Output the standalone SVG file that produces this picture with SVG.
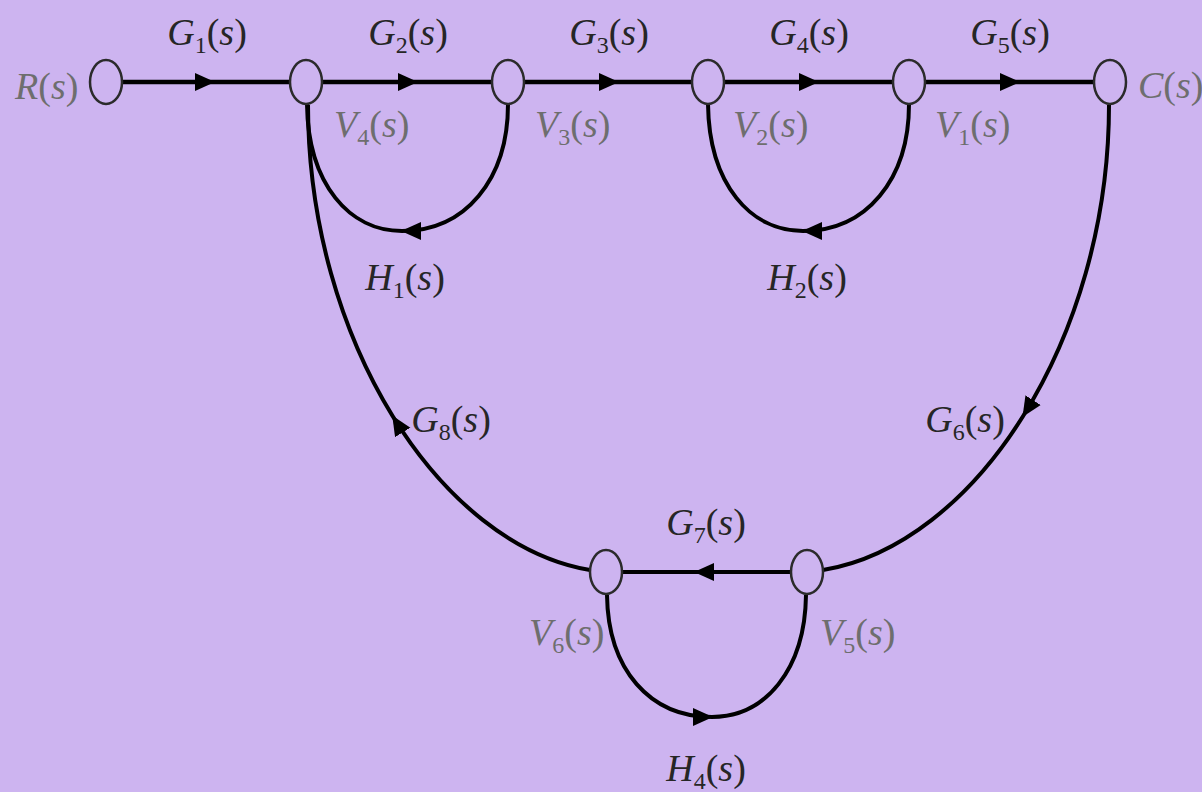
<svg xmlns="http://www.w3.org/2000/svg" width="1202" height="792" viewBox="0 0 1202 792">
<style>
.bg{fill:#cdb4f0}
.node{fill:none;stroke:#2b2b2b;stroke-width:2.5}
.edge{fill:none;stroke:#000;stroke-width:4;marker-mid:url(#arr)}
.main{stroke-width:4.5}
.lab{font-family:"Liberation Serif","Times New Roman",serif;font-style:italic;font-size:38px;fill:#262626}
.vlab{font-family:"Liberation Serif","Times New Roman",serif;font-style:italic;font-size:38px;fill:#6e6e6e}
.c{text-anchor:middle}
.sub{font-size:24px;font-style:normal}
.up{font-style:normal}
</style>
<defs>
<marker id="arr" markerUnits="userSpaceOnUse" viewBox="0 -10 22 20" markerWidth="22" markerHeight="20" refX="19" refY="0" orient="auto">
<path d="M0,-9 L20,0 L0,9 Z" fill="#000"/>
</marker>
</defs>
<rect class="bg" x="0" y="0" width="1202" height="792"/>
<g id="connectors">
<path id="e-g1" class="edge main" d="M122 82 L214 82 L290 82"/>
<path id="e-g2" class="edge main" d="M322 82 L417 82 L492 82"/>
<path id="e-g3" class="edge main" d="M524 82 L618 82 L692 82"/>
<path id="e-g4" class="edge main" d="M724 82 L818 82 L893 82"/>
<path id="e-g5" class="edge main" d="M925 82 L1019 82 L1094 82"/>
<path id="e-h1" class="edge" d="M508 104 C508 180 465 231 402 231 C350 231 308 185 307 104"/>
<path id="e-h2" class="edge" d="M909 104 C909 180 866 231 803 231 C751 231 709 185 708 104"/>
<path id="e-g6" class="edge" d="M1109 105 C1109 222.5 1075.5 332.5 1023 416.25 C970.5 500 899 557.5 823 570"/>
<path id="e-g7" class="edge" d="M791 572 L695 572 L622 572"/>
<path id="e-g8" class="edge" d="M590 570 C515 557.5 444.5 500 392.75 416.25 C341 332.5 308 222.5 308 105"/>
<path id="e-h4" class="edge" d="M607 595 C608 670 650 717 712 717 C765 717 805 670 806 595"/>
</g>
<g id="node-R"><ellipse class="node" cx="106" cy="82" rx="16" ry="22"/><text class="vlab" x="15" y="99">R<tspan class="up">(</tspan>s<tspan class="up">)</tspan></text></g>
<g id="node-V4"><ellipse class="node" cx="306" cy="82" rx="16" ry="22"/><text class="vlab" x="334" y="137">V<tspan class="sub" dy="8">4</tspan><tspan class="up" dy="-8">(</tspan>s<tspan class="up">)</tspan></text></g>
<g id="node-V3"><ellipse class="node" cx="508" cy="82" rx="16" ry="22"/><text class="vlab" x="535" y="137">V<tspan class="sub" dy="8">3</tspan><tspan class="up" dy="-8">(</tspan>s<tspan class="up">)</tspan></text></g>
<g id="node-V2"><ellipse class="node" cx="708" cy="82" rx="16" ry="22"/><text class="vlab" x="733" y="137">V<tspan class="sub" dy="8">2</tspan><tspan class="up" dy="-8">(</tspan>s<tspan class="up">)</tspan></text></g>
<g id="node-V1"><ellipse class="node" cx="909" cy="82" rx="16" ry="22"/><text class="vlab" x="935" y="137">V<tspan class="sub" dy="8">1</tspan><tspan class="up" dy="-8">(</tspan>s<tspan class="up">)</tspan></text></g>
<g id="node-C"><ellipse class="node" cx="1110" cy="82" rx="16" ry="22"/><text class="vlab" x="1138" y="98">C<tspan class="up">(</tspan>s<tspan class="up">)</tspan></text></g>
<g id="node-V6"><ellipse class="node" cx="606" cy="572" rx="16" ry="22"/><text class="vlab" x="529" y="645">V<tspan class="sub" dy="8">6</tspan><tspan class="up" dy="-8">(</tspan>s<tspan class="up">)</tspan></text></g>
<g id="node-V5"><ellipse class="node" cx="807" cy="572" rx="16" ry="22"/><text class="vlab" x="820" y="645">V<tspan class="sub" dy="8">5</tspan><tspan class="up" dy="-8">(</tspan>s<tspan class="up">)</tspan></text></g>
<g id="labels">
<text class="lab c" x="207" y="45">G<tspan class="sub" dy="8">1</tspan><tspan class="up" dy="-8">(</tspan>s<tspan class="up">)</tspan></text>
<text class="lab c" x="408" y="45">G<tspan class="sub" dy="8">2</tspan><tspan class="up" dy="-8">(</tspan>s<tspan class="up">)</tspan></text>
<text class="lab c" x="609" y="45">G<tspan class="sub" dy="8">3</tspan><tspan class="up" dy="-8">(</tspan>s<tspan class="up">)</tspan></text>
<text class="lab c" x="809" y="45">G<tspan class="sub" dy="8">4</tspan><tspan class="up" dy="-8">(</tspan>s<tspan class="up">)</tspan></text>
<text class="lab c" x="1010" y="45">G<tspan class="sub" dy="8">5</tspan><tspan class="up" dy="-8">(</tspan>s<tspan class="up">)</tspan></text>
<text class="lab c" x="405" y="290">H<tspan class="sub" dy="8">1</tspan><tspan class="up" dy="-8">(</tspan>s<tspan class="up">)</tspan></text>
<text class="lab c" x="807" y="290">H<tspan class="sub" dy="8">2</tspan><tspan class="up" dy="-8">(</tspan>s<tspan class="up">)</tspan></text>
<text class="lab c" x="451" y="432">G<tspan class="sub" dy="8">8</tspan><tspan class="up" dy="-8">(</tspan>s<tspan class="up">)</tspan></text>
<text class="lab c" x="965" y="432">G<tspan class="sub" dy="8">6</tspan><tspan class="up" dy="-8">(</tspan>s<tspan class="up">)</tspan></text>
<text class="lab c" x="706" y="535">G<tspan class="sub" dy="8">7</tspan><tspan class="up" dy="-8">(</tspan>s<tspan class="up">)</tspan></text>
<text class="lab c" x="706" y="781">H<tspan class="sub" dy="8">4</tspan><tspan class="up" dy="-8">(</tspan>s<tspan class="up">)</tspan></text>
</g>
</svg>
